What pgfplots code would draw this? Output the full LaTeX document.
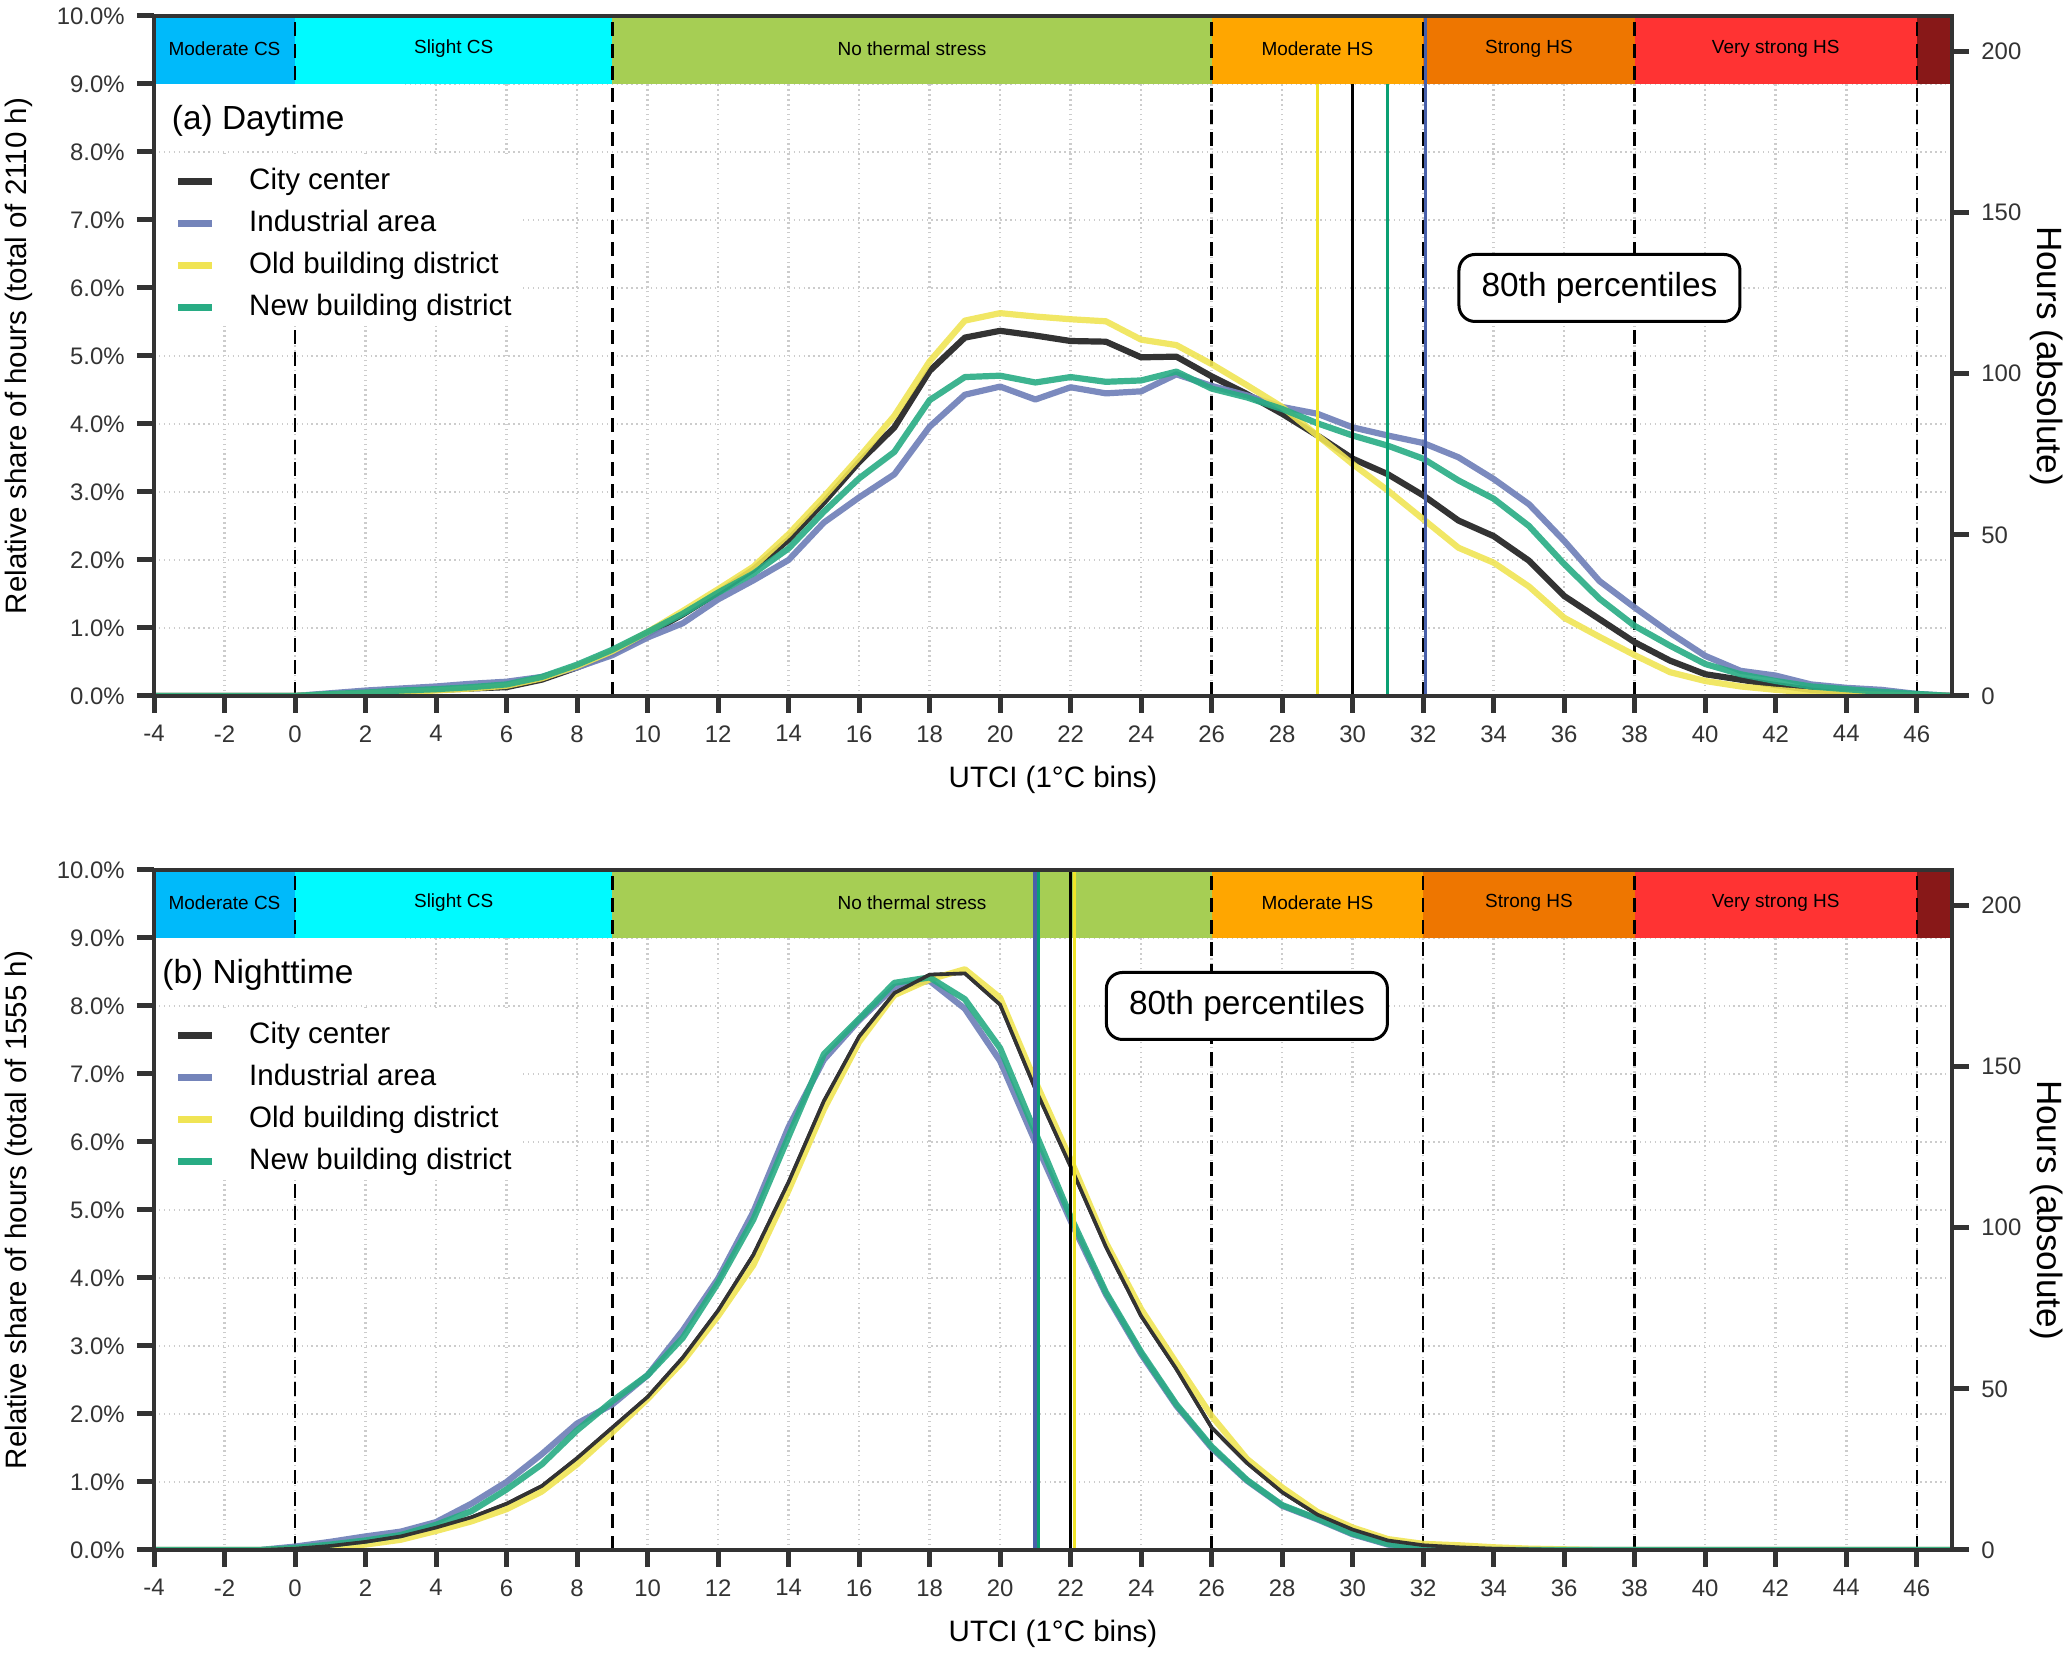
\documentclass[border=0pt]{standalone}
\usepackage{fontspec}
\setmainfont{Liberation Sans}
\usepackage{pgfplots}
\usepackage{pgfplotstable}
\pgfplotsset{compat=1.18}

\definecolor{cityc}{RGB}{51,51,51}
\definecolor{indc}{RGB}{116,132,186}
\definecolor{oldc}{RGB}{240,228,84}
\definecolor{newc}{RGB}{40,172,132}
\definecolor{pold}{RGB}{240,228,40}
\definecolor{pnew}{RGB}{10,160,115}
\definecolor{pind}{RGB}{72,96,170}
\definecolor{mcs}{RGB}{0,186,250}
\definecolor{scs}{RGB}{0,250,255}
\definecolor{nts}{RGB}{166,206,84}
\definecolor{mhs}{RGB}{255,166,0}
\definecolor{shs}{RGB}{238,118,0}
\definecolor{vshs}{RGB}{255,51,51}
\definecolor{ehs}{RGB}{136,24,24}

\pgfplotstableread{
x city ind old new
-4 0 0 0 0
-3 0 0 0 0
-2 0 0 0 0
-1 0 0 0 0
0 0.00 0.00 0.00 0.00
1 0.02 0.04 0.02 0.03
2 0.05 0.08 0.04 0.05
3 0.07 0.11 0.06 0.08
4 0.09 0.14 0.08 0.10
5 0.11 0.18 0.11 0.13
6 0.13 0.21 0.15 0.17
7 0.24 0.28 0.26 0.28
8 0.42 0.42 0.44 0.46
9 0.63 0.60 0.66 0.68
10 0.91 0.86 0.94 0.94
11 1.20 1.07 1.25 1.21
12 1.52 1.42 1.57 1.52
13 1.86 1.70 1.90 1.80
14 2.30 2.00 2.38 2.17
15 2.85 2.55 2.93 2.71
16 3.44 2.92 3.51 3.20
17 3.95 3.26 4.12 3.59
18 4.78 3.96 4.92 4.35
19 5.27 4.43 5.52 4.69
20 5.37 4.55 5.63 4.71
21 5.30 4.36 5.58 4.61
22 5.22 4.54 5.54 4.69
23 5.21 4.45 5.51 4.62
24 4.98 4.48 5.24 4.64
25 4.99 4.73 5.16 4.77
26 4.70 4.56 4.88 4.52
27 4.44 4.42 4.57 4.39
28 4.15 4.25 4.25 4.22
29 3.83 4.15 3.83 4.01
30 3.49 3.95 3.41 3.83
31 3.26 3.83 3.02 3.68
32 2.95 3.72 2.60 3.49
33 2.58 3.51 2.18 3.17
34 2.35 3.19 1.96 2.90
35 1.99 2.82 1.61 2.50
36 1.47 2.28 1.15 1.94
37 1.13 1.69 0.87 1.43
38 0.79 1.30 0.60 1.03
39 0.52 0.93 0.35 0.74
40 0.32 0.59 0.22 0.47
41 0.24 0.37 0.14 0.32
42 0.16 0.30 0.09 0.22
43 0.09 0.17 0.05 0.14
44 0.06 0.12 0.03 0.10
45 0.04 0.09 0.02 0.06
46 0.02 0.03 0.01 0.03
47 0.00 0.00 0.00 0.00
}\daytab

\pgfplotstableread{
x city ind old new
-4 0 0 0 0
-3 0 0 0 0
-2 0 0 0 0
-1 0 0 0 0
0 0.02 0.05 0.01 0.03
1 0.06 0.12 0.04 0.08
2 0.12 0.20 0.08 0.14
3 0.20 0.27 0.15 0.22
4 0.33 0.41 0.28 0.37
5 0.48 0.68 0.42 0.57
6 0.68 1.00 0.60 0.89
7 0.94 1.41 0.86 1.26
8 1.35 1.86 1.26 1.76
9 1.80 2.14 1.73 2.19
10 2.25 2.57 2.22 2.57
11 2.83 3.23 2.77 3.12
12 3.52 3.99 3.44 3.93
13 4.34 4.97 4.19 4.86
14 5.41 6.22 5.29 6.08
15 6.60 7.21 6.48 7.29
16 7.55 7.79 7.47 7.81
17 8.19 8.28 8.16 8.34
18 8.46 8.37 8.39 8.42
19 8.48 7.96 8.54 8.10
20 8.02 7.19 8.12 7.38
21 6.78 6.00 6.89 6.14
22 5.64 4.84 5.74 4.90
23 4.46 3.76 4.52 3.79
24 3.44 2.88 3.54 2.91
25 2.66 2.12 2.75 2.14
26 1.80 1.50 1.97 1.52
27 1.28 1.02 1.34 1.03
28 0.85 0.65 0.92 0.66
29 0.52 0.45 0.56 0.46
30 0.30 0.23 0.33 0.24
31 0.14 0.08 0.16 0.09
32 0.07 0.01 0.09 0.02
33 0.04 0.00 0.07 0.00
34 0.02 0.00 0.04 0.00
35 0.01 0.00 0.02 0.00
36 0.00 0.00 0.01 0.00
37 0 0 0 0
38 0 0 0 0
39 0 0 0 0
40 0 0 0 0
41 0 0 0 0
42 0 0 0 0
43 0 0 0 0
44 0 0 0 0
45 0 0 0 0
46 0 0 0 0
47 0 0 0 0
}\nighttab

\pgfplotsset{
  base/.style={
    scale only axis, width=179.8mm, height=68.0mm,
    xmin=-4, xmax=47, ymin=0, ymax=10,
    /pgf/number format/assume math mode=true,
    ticklabel style={font=\fontsize{6.8}{8}\selectfont, text=black!80},
    label style={font=\fontsize{8.4}{10}\selectfont},
    tick align=outside, major tick length=1.7mm,
    major tick style={line width=0.5mm, draw=black!80},
    axis line style={line width=0.4mm, draw=black!80},
  },
  leftax/.style={
    base,
    xtick={-4,-2,...,46}, ytick={0,1,...,10},
    xtick pos=bottom, ytick pos=left,
    grid=major,
    major grid style={densely dotted, draw=black!20, line width=0.25mm},
    yticklabel={\pgfmathprintnumber[fixed,fixed zerofill,precision=1]{\tick}\%},
    xlabel={UTCI (1°C bins)},
    xlabel style={at={(axis description cs:0.5,-0.1235)}, anchor=center},
    ylabel style={at={(axis description cs:-0.0751,0.5)}, anchor=center},
    legend cell align=left,
    legend image code/.code={%
      \draw[#1, line width=0.7mm, opacity=1] (0mm,0mm) -- (3.4mm,0mm);
      \path[draw=none, fill=none] (0mm,-2.11mm) rectangle (7.1mm,2.11mm);},
    legend style={at={(0,0.9)}, anchor=north west, xshift=2.0mm, yshift=-7.53mm,
      draw=none, fill=none, inner sep=0pt, row sep=0pt,
      font=\fontsize{8.4}{10}\selectfont,
      nodes={inner sep=0pt}},
  },
  rightax/.style={
    base, ymax=211, axis lines=box, xtick=\empty,
    ytick={0,50,...,200}, ytick pos=right, yticklabel pos=right,
    ylabel={Hours (absolute)},
    ylabel style={at={(axis description cs:1.0528,0.5)}, anchor=center, rotate=180},
  },
  ser/.style={line width=0.62mm, line join=round},
  pct/.style={line width=0.3mm, forget plot},
  bnd/.style={black, dashed, dash pattern=on 1.4mm off 0.8mm, line width=0.25mm, forget plot},
}

\newcommand{\bands}{%
  \fill[mcs] (axis cs:-4,9) rectangle (axis cs:0,10);
  \fill[scs] (axis cs:0,9) rectangle (axis cs:9,10);
  \fill[nts] (axis cs:9,9) rectangle (axis cs:26,10);
  \fill[mhs] (axis cs:26,9) rectangle (axis cs:32,10);
  \fill[shs] (axis cs:32,9) rectangle (axis cs:38,10);
  \fill[vshs] (axis cs:38,9) rectangle (axis cs:46,10);
  \fill[ehs] (axis cs:46,9) rectangle (axis cs:47,10);
  \addplot[bnd] coordinates {(0,0) (0,10)};
  \addplot[bnd] coordinates {(9,0) (9,10)};
  \addplot[bnd] coordinates {(26,0) (26,10)};
  \addplot[bnd] coordinates {(32,0) (32,10)};
  \addplot[bnd] coordinates {(38,0) (38,10)};
  \addplot[bnd] coordinates {(46,0) (46,10)};
  \fill[white] (axis cs:-4,9) rectangle (axis cs:3,8.03);
  \fill[white] (axis cs:-4,7.97) rectangle (axis cs:6.45,5.46);
  \node[font=\fontsize{5.4}{6}\selectfont] at (axis cs:-2,9.52) {Moderate CS};
  \node[font=\fontsize{5.4}{6}\selectfont] at (axis cs:4.5,9.52) {Slight CS};
  \node[font=\fontsize{5.4}{6}\selectfont] at (axis cs:17.5,9.52) {No thermal stress};
  \node[font=\fontsize{5.4}{6}\selectfont] at (axis cs:29,9.52) {Moderate HS};
  \node[font=\fontsize{5.4}{6}\selectfont] at (axis cs:35,9.52) {Strong HS};
  \node[font=\fontsize{5.4}{6}\selectfont] at (axis cs:42,9.52) {Very strong HS};
}

\begin{document}
\begin{tikzpicture}
\path[use as bounding box] (0,0) rectangle (206.7mm,165.5mm);

% ---------- (a) Daytime ----------
\begin{axis}[leftax, at={(15.4mm,95.9mm)}, anchor=south west,
  ylabel={Relative share of hours (total of 2110 h)}]
  \bands
  \addplot[ser, cityc] table[x=x,y=city] {\daytab};
  \addlegendentry{City center}
  \addplot[ser, indc, opacity=0.95] table[x=x,y=ind] {\daytab};
  \addlegendentry{Industrial area}
  \addplot[ser, oldc, opacity=0.9] table[x=x,y=old] {\daytab};
  \addlegendentry{Old building district}
  \addplot[ser, newc, opacity=0.9] table[x=x,y=new] {\daytab};
  \addlegendentry{New building district}
  \addplot[pct, pold] coordinates {(29,0) (29,9)};
  \addplot[pct, black] coordinates {(30,0) (30,9)};
  \addplot[pct, pnew] coordinates {(31,0) (31,9)};
  \addplot[pct, pind] coordinates {(32.06,0) (32.06,10)};
  \node[anchor=west, inner sep=0pt, font=\fontsize{9.5}{11}\selectfont] at (axis cs:-3.51,8.46) {(a) Daytime};
  \node[draw=black, line width=0.3mm, rounded corners=1.6mm, fill=white,
    minimum width=28.1mm, minimum height=6.7mm, inner sep=0pt,
    font=\fontsize{9.5}{11}\selectfont] at (axis cs:37,6.0) {80th percentiles};
\end{axis}
\begin{axis}[rightax, at={(15.4mm,95.9mm)}, anchor=south west]
\end{axis}

% ---------- (b) Nighttime ----------
\begin{axis}[leftax, at={(15.4mm,10.5mm)}, anchor=south west,
  ylabel={Relative share of hours (total of 1555 h)}]
  \bands
  \addplot[line width=0.36mm, line join=round, cityc] table[x=x,y=city] {\nighttab};
  \addlegendentry{City center}
  \addplot[ser, indc, opacity=0.95] table[x=x,y=ind] {\nighttab};
  \addlegendentry{Industrial area}
  \addplot[ser, oldc, opacity=0.9] table[x=x,y=old] {\nighttab};
  \addlegendentry{Old building district}
  \addplot[ser, newc, opacity=0.9] table[x=x,y=new] {\nighttab};
  \addlegendentry{New building district}
  \addplot[line width=0.36mm, cityc, forget plot] table[x=x,y=city] {\nighttab};
  \addplot[pct, pind, line width=0.45mm] coordinates {(21,0) (21,10)};
  \addplot[pct, pnew] coordinates {(21.08,0) (21.08,10)};
  \addplot[pct, black] coordinates {(22,0) (22,10)};
  \addplot[pct, pold] coordinates {(22.1,0) (22.1,10)};
  \node[anchor=west, inner sep=0pt, font=\fontsize{9.5}{11}\selectfont] at (axis cs:-3.78,8.46) {(b) Nighttime};
  \node[draw=black, line width=0.3mm, rounded corners=1.6mm, fill=white,
    minimum width=28.1mm, minimum height=6.7mm, inner sep=0pt,
    font=\fontsize{9.5}{11}\selectfont] at (axis cs:27,8.0) {80th percentiles};
\end{axis}
\begin{axis}[rightax, at={(15.4mm,10.5mm)}, anchor=south west]
\end{axis}
\end{tikzpicture}
\end{document}
